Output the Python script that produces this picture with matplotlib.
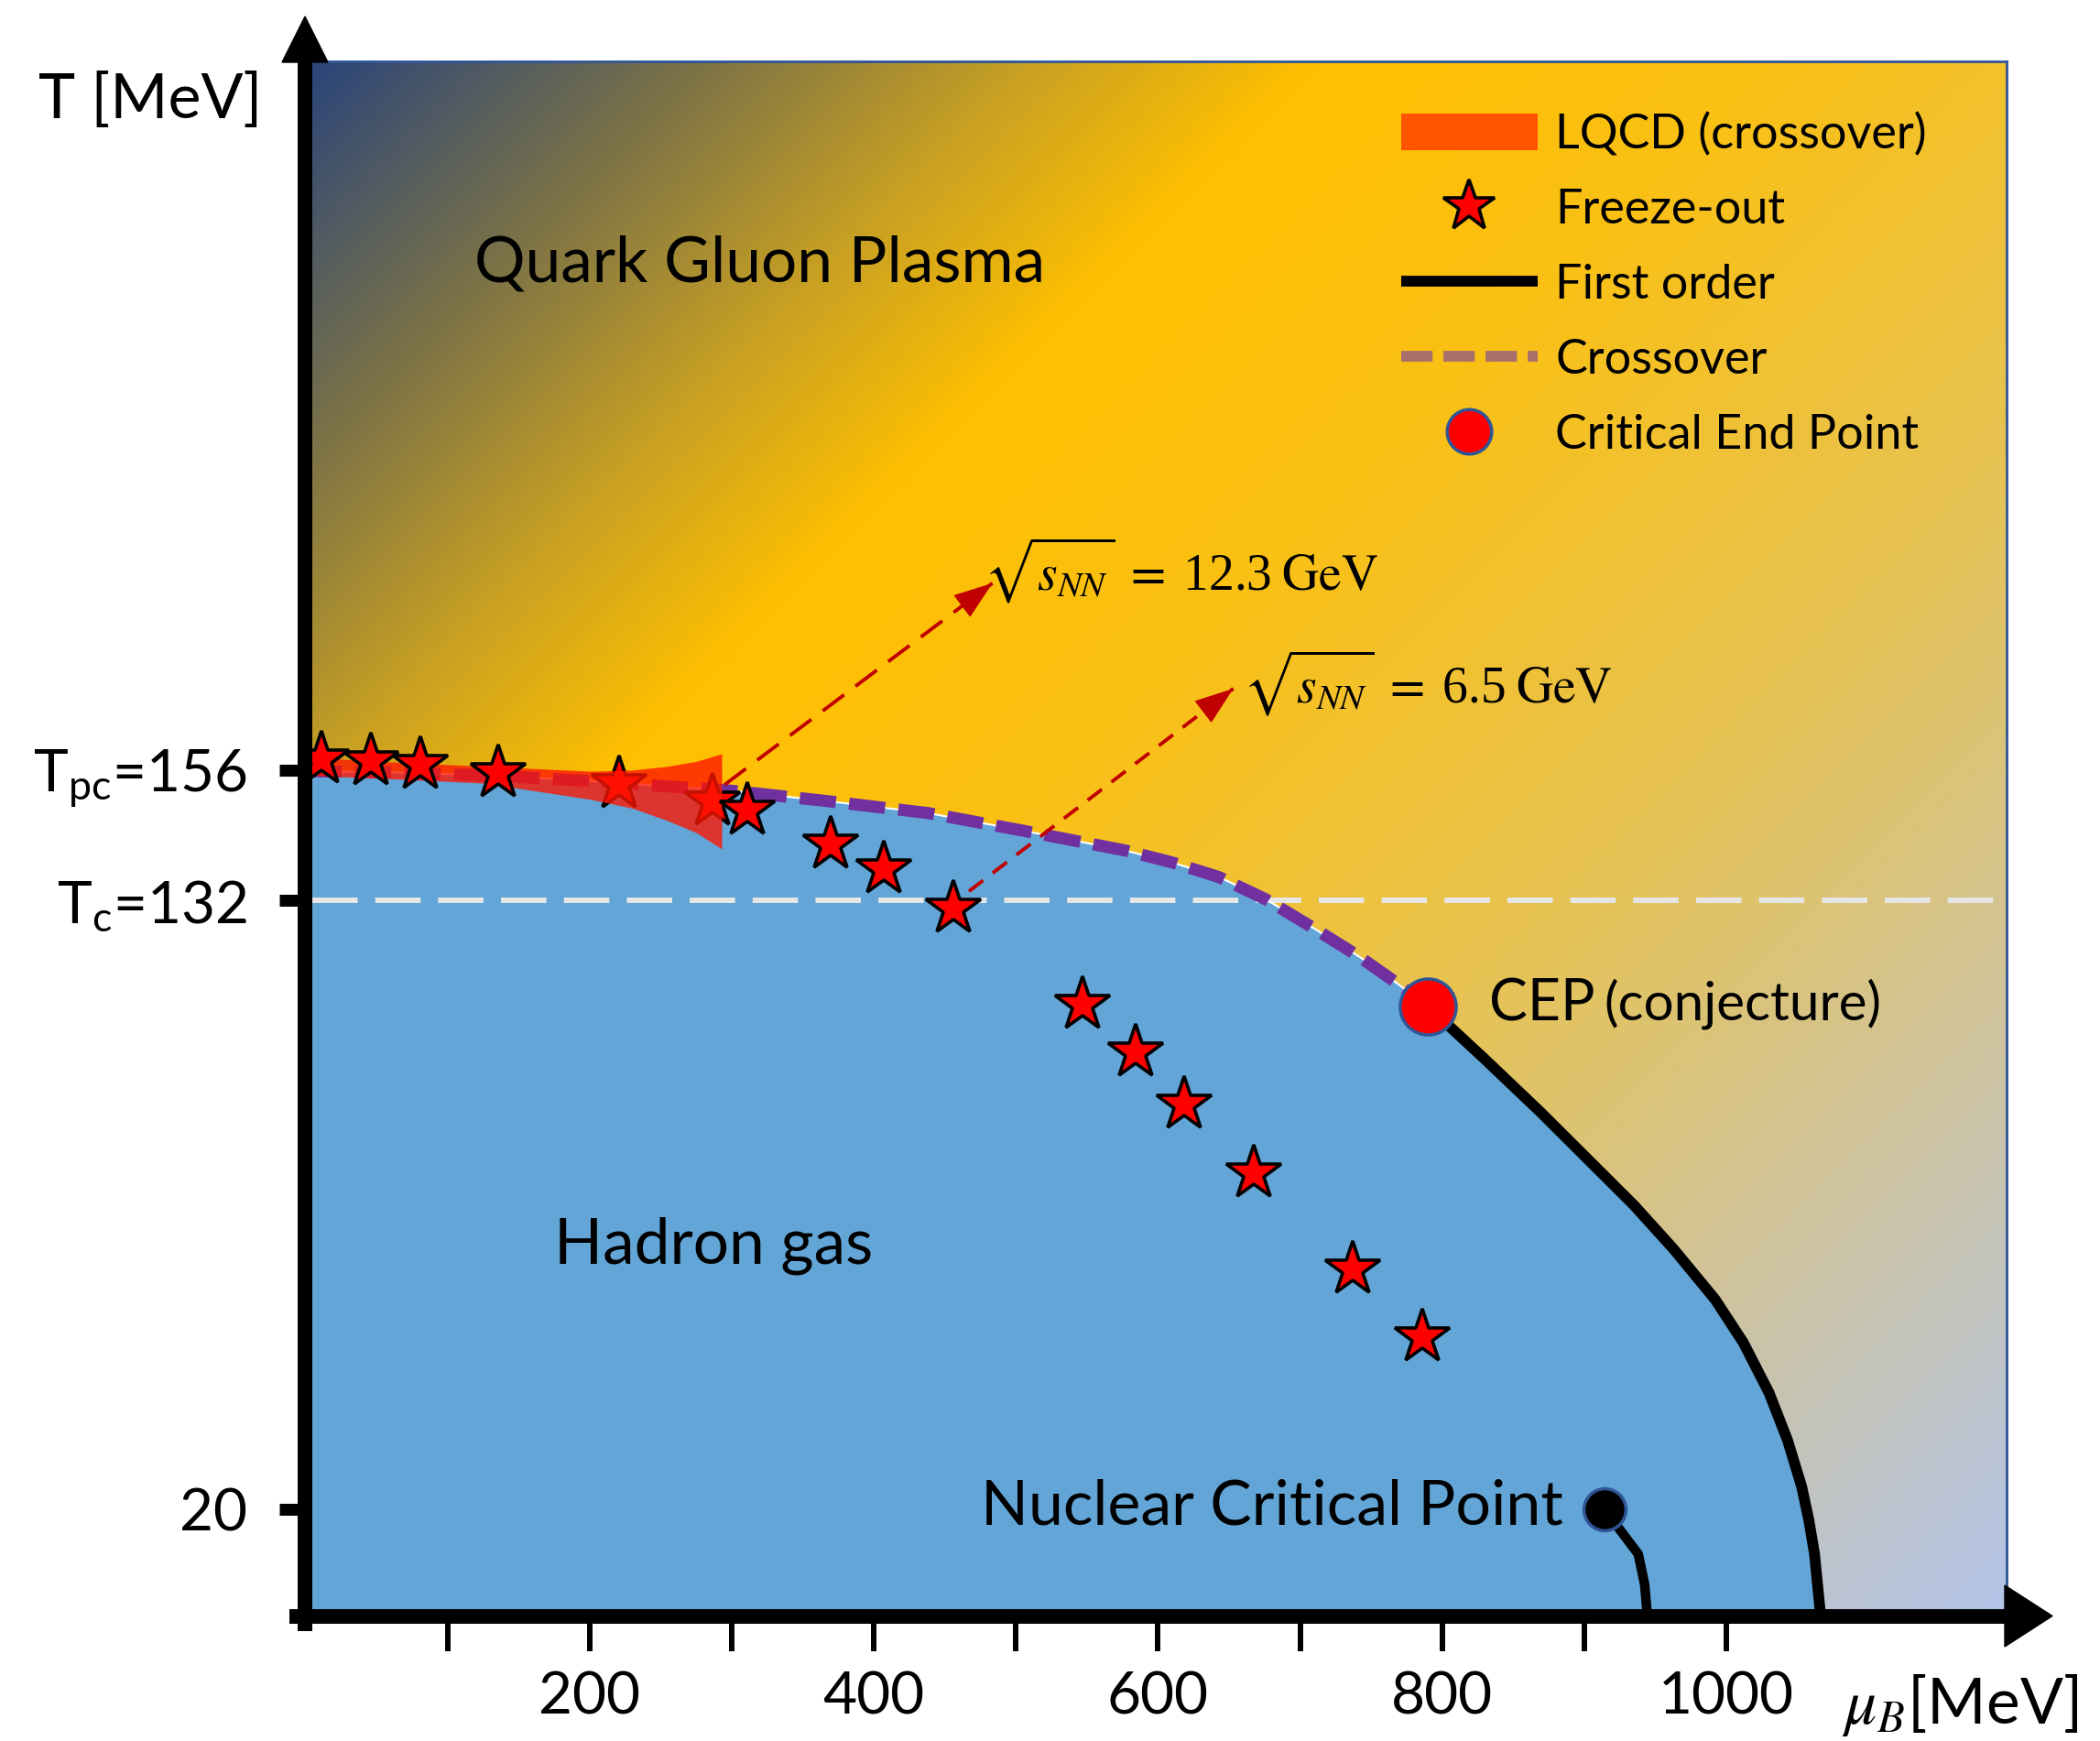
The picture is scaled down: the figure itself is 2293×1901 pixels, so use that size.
import matplotlib

matplotlib.use("Agg")

import matplotlib.pyplot as plt
import numpy as np
from matplotlib.colors import LinearSegmentedColormap
from matplotlib.lines import Line2D
from matplotlib.patches import Patch, Polygon

plt.rcParams["font.family"] = ["Lato", "DejaVu Sans"]
plt.rcParams["mathtext.fontset"] = "custom"
plt.rcParams["mathtext.rm"] = "Lato"
plt.rcParams["mathtext.it"] = "Lato:italic"

# crossover line, mu_B and T in MeV, ending at the critical end point
CROSS_MU = [0, 60, 130, 200, 255, 300, 367, 438, 504, 577, 610, 643, 676, 709, 742, 767, 790]
CROSS_T = [155.8, 155.6, 155.0, 154.0, 153.0, 152.2, 150.3, 148.1, 144.9, 141.2,
           139.0, 136.3, 132.2, 127.0, 121.6, 117.0, 112.5]

# first order line from the CEP down to T = 0
FIRST_MU = [790, 830, 869, 902, 935, 963, 992, 1012, 1030, 1043, 1053, 1058, 1062, 1066, 1067]
FIRST_T = [112.5, 102.8, 93.1, 84.5, 75.9, 67.8, 58.6, 50.6, 41.4, 32.7, 24.1, 18.0,
           11.8, 1.2, 0.0]

# liquid-gas line below the nuclear critical point
NUCLEAR_MU = [914, 925, 938, 942.5, 944.5]
NUCLEAR_T = [20.0, 16.2, 11.7, 6.1, 0.0]

CEP = (790, 112.5)
NCP = (914, 20.0)

# lattice QCD crossover band
LQCD_MU = [5, 60, 126, 201, 230, 255, 275, 293]
LQCD_LO = [155.0, 154.4, 153.6, 150.6, 149.0, 146.7, 144.5, 141.5]
LQCD_HI = [158.3, 157.5, 156.7, 155.8, 156.0, 156.7, 157.6, 159.0]

# chemical freeze-out points
FREEZE_MU = [11.3, 46.2, 81.1, 135.7, 220.5, 286.5, 311.0, 369.5, 407.2, 456.2,
             546.7, 584.4, 618.3, 667.3, 737.0, 786.0]
FREEZE_T = [158.0, 157.7, 157.0, 155.5, 153.5, 150.3, 148.6, 142.4, 137.7, 130.6,
            112.9, 104.0, 94.4, 81.8, 64.1, 51.7]

T_C = 132
Y_TICKS = [20, 132, 156]
Y_TICK_LABELS = ["20", r"T$_{\mathrm{c}}$=132", r"T$_{\mathrm{pc}}$=156"]
X_LABELED = [200, 400, 600, 800, 1000]
X_MINOR = [100, 300, 500, 700, 900]

# collision energies pointed at from their freeze-out points
ENERGIES = ["12.3", "6.5"]
ARROW_FROM = [(295, 153.3), (467, 133.7)]
ARROW_TO = [(483.5, 190.4), (653, 171.0)]
ARROW_DASH = [(0, (7.5, 4)), (0, (5, 3.4))]
ENERGY_POS = [(477, 192.7), (660, 172.1)]

W, H = 2293, 1901
fig = plt.figure(figsize=(W / 100, H / 100), dpi=100)
ax = fig.add_axes([340.7 / W, 1 - 1756.5 / H, 1850 / W, 1689.2 / H])

# diagonal background gradient
stops = [(0.0, "#2c467a"), (0.12, "#7d7346"), (0.22, "#c8a023"), (0.31, "#ffc000"),
         (0.45, "#fac014"), (0.65, "#e6c355"), (0.80, "#d2c396"), (1.0, "#b2c4e8")]
cmap = LinearSegmentedColormap.from_list("qgp", stops)
g = np.linspace(0, 1, 600)
uu, vv = np.meshgrid(g, g)
grad = (uu * 1850 + vv * 1689) / (1850 + 1689)
ax.imshow(grad, cmap=cmap, vmin=0, vmax=1, extent=(0, 1, 0, 1),
          transform=ax.transAxes, aspect="auto", zorder=0, interpolation="bilinear")

# hadron gas region
hx = CROSS_MU + FIRST_MU[1:] + [CROSS_MU[0]]
hy = CROSS_T + FIRST_T[1:] + [FIRST_T[-1]]
ax.fill(hx, hy, color="#62a5d6", lw=0, zorder=1)

ax.axhline(T_C, color="#e6e6e6", lw=4.3, ls=(0, (8.3, 3.2)), zorder=2)

ax.plot(CROSS_MU, CROSS_T, color="white", lw=1.5, zorder=2.2)
ax.plot(CROSS_MU, CROSS_T, color="#7030a0", lw=9.5, ls=(0, (3.0, 1.1)),
        dash_capstyle="butt", zorder=3)
ax.plot(FIRST_MU, FIRST_T, color="black", lw=8.5, zorder=3, solid_capstyle="butt",
        solid_joinstyle="round")
ax.plot(NUCLEAR_MU, NUCLEAR_T, color="black", lw=7.5, zorder=3, solid_capstyle="butt",
        solid_joinstyle="round")

# freeze-out stars: the ones inside the widening band sit below it
fmu = np.array(FREEZE_MU)
ft = np.array(FREEZE_T)
under = (fmu > 200) & (fmu < LQCD_MU[-1])
star_kw = dict(ls="none", marker="*", ms=45, mfc="red", mec="black", mew=2.6)
ax.plot(fmu[under], ft[under], zorder=3.5, **star_kw)
ax.plot(fmu[~under], ft[~under], zorder=5, **star_kw)

ax.fill_between(LQCD_MU, LQCD_LO, LQCD_HI, color="#ff1500", alpha=0.78, lw=0, zorder=4)

for (x0, y0), (x1, y1), dash, e, (tx, ty) in zip(ARROW_FROM, ARROW_TO, ARROW_DASH,
                                                 ENERGIES, ENERGY_POS):
    ax.plot([x0, x1], [y0, y1], color="#c00000", lw=2.8, ls=dash, zorder=6)
    ax.annotate("", xy=(x1, y1), xytext=(x1 - 0.02 * (x1 - x0), y1 - 0.02 * (y1 - y0)),
                arrowprops=dict(arrowstyle="-|>,head_length=0.7,head_width=0.25",
                                color="#c00000", lw=1, shrinkA=0, shrinkB=0,
                                mutation_scale=40),
                zorder=6)
    ax.text(tx, ty, r"$\sqrt{s_{NN}}\;=\;$" + e + r"$\;\mathrm{GeV}$", fontsize=40,
            family="Liberation Serif", math_fontfamily="stix", va="center", ha="left",
            zorder=7)

ax.plot(*CEP, marker="o", ms=44, mfc="red", mec="#2f5597", mew=2.5, zorder=7)
ax.plot(*NCP, marker="o", ms=33, mfc="black", mec="#2f5597", mew=2.5, zorder=7)

ax.text(319.5, 249.2, "Quark Gluon Plasma", fontsize=50, ha="center", va="center")
ax.text(287.5, 68.5, "Hadron gas", fontsize=50, ha="center", va="center")
ax.text(885, 20.4, "Nuclear Critical Point", fontsize=49, ha="right", va="center")
ax.text(833, 112.9, "CEP", fontsize=45, ha="left", va="center")
ax.text(914, 112.9, "(conjecture)", fontsize=42, ha="left", va="center")

ax.set_xlim(4.7, 1197)
ax.set_ylim(1.65, 286.4)

ax.set_xticks(X_LABELED)
ax.set_xticklabels([str(v) for v in X_LABELED])
ax.set_xticks(X_MINOR, minor=True)
ax.tick_params(axis="x", which="both", length=27, width=4.3, pad=16, labelsize=46,
               direction="out")
ax.set_yticks(Y_TICKS)
ax.set_yticklabels(Y_TICK_LABELS)
ax.tick_params(axis="y", length=20, width=9.4, pad=25, labelsize=46, direction="out")

for side in ("top", "right"):
    ax.spines[side].set_color("#2f5597")
    ax.spines[side].set_linewidth(2)
for side in ("left", "bottom"):
    ax.spines[side].set_position(("outward", 5.76))
    ax.spines[side].set_linewidth(11.5)
    ax.spines[side].set_color("black")
ax.spines["bottom"].set_bounds(-6, 1197)
ax.spines["left"].set_bounds(-1.05, 286.4)

# arrow heads on both axes
fig.add_artist(Polygon([(2189 / W, 1 - 1731 / H), (2189 / W, 1 - 1798 / H),
                        (2241 / W, 1 - 1764.5 / H)], closed=True, color="black",
                       transform=fig.transFigure))
fig.add_artist(Polygon([(308 / W, 1 - 68 / H), (358 / W, 1 - 68 / H),
                        (333 / W, 1 - 18 / H)], closed=True, color="black",
                       transform=fig.transFigure))

fig.text(164 / W, 1 - 110 / H, "T [MeV]", fontsize=49, ha="center", va="center")
fig.text(2011 / W, 1 - 1862 / H, r"$\mu_B$[MeV]", fontsize=50, math_fontfamily="stix",
         ha="left", va="center")

handles = [
    Patch(facecolor="#ff5500", edgecolor="none"),
    Line2D([], [], ls="none", marker="*", ms=42, mfc="red", mec="black", mew=2.6),
    Line2D([], [], color="black", lw=8.5, solid_capstyle="butt"),
    Line2D([], [], color="#a8706a", lw=8.5, ls=(0, (2.9, 1.0)), dash_capstyle="butt"),
    Line2D([], [], ls="none", marker="o", ms=35, mfc="red", mec="#2f5597", mew=2.5),
]
labels = ["LQCD (crossover)", "Freeze-out", "First order", "Crossover",
          "Critical End Point"]
ax.legend(handles, labels, loc="upper left", bbox_to_anchor=(0.643, 0.967),
          frameon=False, fontsize=37.5, borderpad=0, borderaxespad=0,
          handlelength=2.85, handleheight=0.8, handletextpad=0.38, labelspacing=0.67)

fig.savefig("out.png", dpi=100)
